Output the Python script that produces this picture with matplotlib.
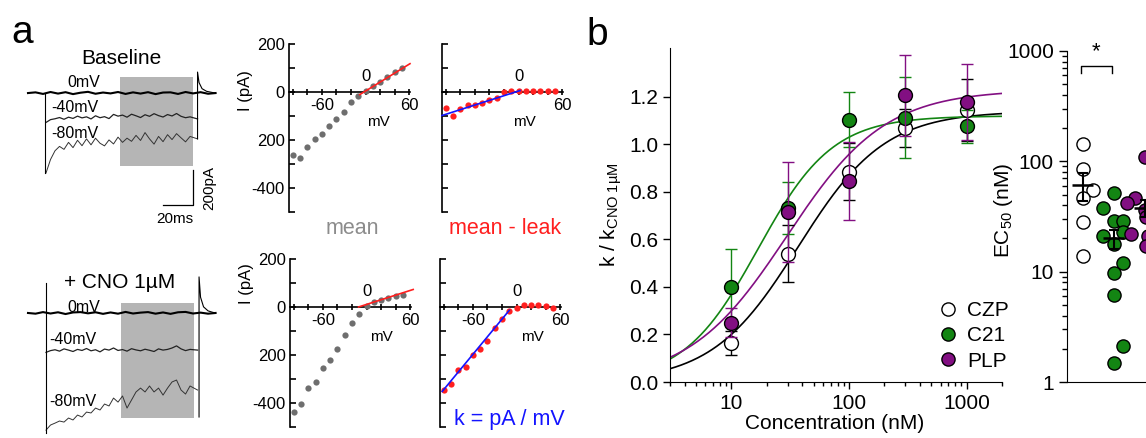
import numpy as np
import matplotlib
matplotlib.use('Agg')
import matplotlib.pyplot as plt
from matplotlib.patches import Rectangle
from matplotlib.lines import Line2D
from matplotlib.ticker import FixedLocator, NullFormatter

plt.rcParams['font.family'] = ['Liberation Sans', 'DejaVu Sans']
plt.rcParams['mathtext.fontset'] = 'custom'
plt.rcParams['mathtext.rm'] = 'Liberation Sans'
plt.rcParams['mathtext.it'] = 'Liberation Sans:italic'

# ---------------- data ----------------
# voltage-clamp traces (ms, pA)
t_zero = [2, 7, 12, 17, 22, 27, 32, 37, 42, 47, 52, 57, 62, 67, 72, 77, 82, 87,
          92, 97, 102, 107, 112, 117, 122, 127]
base_0mv = [0, 4, -5, 6, -3, 5, -6, 2, 7, -4, 3, -2, 6, -5, 4, -3, 5, -6, 3, 4,
            -5, 6, -2, 5, -4, 0]
cno_0mv = [0, -4, 5, -3, 4, -6, 3, 5, -2, 4, -5, 3, -4, 6, -3, 2, 5, -4, 3, -5,
           4, 6, -3, 2, -4, 0]

t_step = [14, 17, 20, 23, 26, 29, 32, 35, 38, 41, 44, 47, 50, 53, 56, 59, 62, 65,
          68, 71, 74, 77, 80, 83, 86, 89, 92, 95, 98, 101, 104, 107, 110, 115]
base_m40 = [-168, -152, -147, -140, -150, -138, -145, -132, -142, -136, -148, -130,
            -141, -135, -146, -122, -132, -126, -138, -121, -130, -140, -124, -133,
            -118, -129, -137, -123, -131, -117, -133, -141, -136, -148]
base_m80 = [-457, -380, -330, -305, -322, -282, -312, -270, -301, -262, -296, -258,
            -287, -302, -268, -291, -252, -282, -258, -276, -242, -271, -226, -262,
            -292, -248, -278, -238, -266, -232, -256, -279, -248, -262]
cno_m40 = [-225, -215, -210, -218, -205, -212, -220, -208, -214, -203, -216, -210,
           -222, -206, -212, -200, -214, -209, -218, -204, -211, -216, -207, -213,
           -220, -205, -212, -208, -200, -188, -205, -215, -208, -212]
cno_m80 = [-669, -640, -629, -617, -623, -600, -611, -583, -594, -566, -571, -543,
           -554, -520, -531, -486, -509, -474, -543, -497, -451, -429, -451, -417,
           -451, -429, -469, -429, -394, -383, -440, -463, -417, -440]

base_on_t, base_on_i = [13.3, 13.3], [0, -457]
cno_on_t, cno_on_i = [13.7, 13.7], [171, -686]
base_off_t = [115, 115, 116, 118, 121, 125, 127]
base_off_i = [-262, 120, 60, 25, 10, 3, 0]
cno_off_t = [116, 116, 117, 119, 122, 125, 127]
cno_off_i = [-594, 206, 90, 35, 12, 4, 0]

# I-V relations
iv_v = [-100, -90, -80, -70, -60, -50, -40, -30, -20, -10, 0, 10, 20, 30, 40, 50]
base_mean = [-261, -276, -228, -196, -175, -143, -112, -84, -42, -18, 5, 24, 42,
             63, 84, 102]
base_sub = [-66, -99, -71, -56, -56, -46, -32, -25, 0, 3, 3, 3, 3, 3, 5, 3]
cno_mean = [-436, -403, -336, -312, -255, -221, -176, -115, -67, -28, 5, 21, 31,
            38, 45, 52]
cno_sub = [-347, -322, -262, -248, -199, -176, -140, -87, -49, -17, -3, 7, 7, 7,
           3, -3]
base_leak_v, base_leak_i = [-8, 61], [-11, 118]
base_fit_v, base_fit_i = [-105, 2], [-98, 6]
cno_leak_v, cno_leak_i = [-11, 64], [0, 73]
cno_fit_v, cno_fit_i = [-102, -10], [-352, -14]

# dose-response
conc = [10, 30, 100, 300, 1000]
czp_k = [0.163, 0.539, 0.886, 1.069, 1.145]
czp_err = [0.05, 0.12, 0.12, 0.08, 0.13]
c21_k = [0.40, 0.731, 1.105, 1.113, 1.077]
c21_err = [0.16, 0.11, 0.115, 0.17, 0.07]
plp_k = [0.25, 0.716, 0.847, 1.207, 1.179]
plp_err = [0.06, 0.21, 0.165, 0.17, 0.16]
# Hill fit parameters: top, EC50 (nM), slope
czp_fit = (1.14, 37.0, 1.18)
c21_fit = (1.12, 16.8, 1.37)
plp_fit = (1.23, 29.7, 1.04)

# EC50 scatter
groups = ['CZP', 'C21', 'PLP']
czp_ec50 = [144, 85, 55, 47, 28, 14]
czp_dx = [0, 0, 0.33, 0, 0, 0]
c21_ec50 = [52, 38, 29, 29, 23, 21, 18, 12, 9.7, 6.1, 2.1, 1.5]
c21_dx = [0, -0.33, 0, 0.3, 0.3, -0.33, 0, 0.3, 0, 0, 0.3, 0]
plp_ec50 = [109, 47, 42, 36, 31, 22, 21, 17]
plp_dx = [0, -0.3, -0.55, 0, 0.05, -0.45, 0.1, 0.05]
ec50_mean = [61, 20, 38]
ec50_sem = [17, 4, 7]

GREEN = '#138513'
PURPLE = '#820f82'
RED = '#ff1f1f'
BLUE = '#1414ff'
GREY = '#6e6e6e'

W, H = 1146, 438
fig = plt.figure(figsize=(W / 100, H / 100), dpi=100)


def box(x0, y0, x1, y1):
    return fig.add_axes([x0 / W, 1 - y1 / H, (x1 - x0) / W, (y1 - y0) / H])


def ftext(x, y, s, **kw):
    fig.text(x / W, 1 - y / H, s, **kw)


# ---------------- traces ----------------
def trace_axes(ax, zero, m40, m80, on_t, on_i, off_t, off_i, rect, labels):
    ax.axis('off')
    ax.set_xlim(0, 133.3)
    ax.add_patch(Rectangle((rect[0], rect[2]), rect[1] - rect[0], rect[3] - rect[2],
                           color='#b5b5b5', lw=0, zorder=1))
    ax.plot(t_zero, zero, color='black', lw=1.5, zorder=3)
    ax.plot(t_step, m40, color='#222222', lw=0.9, zorder=3)
    ax.plot(t_step, m80, color='#333333', lw=0.7, zorder=3)
    ax.plot(on_t, on_i, color='black', lw=0.8, zorder=3)
    ax.plot(off_t, off_i, color='black', lw=0.8, zorder=3)
    for (x, y, s, fs) in labels:
        ax.text(x, y, s, fontsize=fs, ha='center', va='center', zorder=4)


ax_t1 = box(25, 60, 225, 230)
ax_t1.set_ylim(-783, 189)
trace_axes(ax_t1, base_0mv, base_m40, base_m80, base_on_t, base_on_i,
           base_off_t, base_off_i, (63, 112, -417, 91),
           [(38.9, 59, '0mV', 11.5), (33, -80, '-40mV', 11.5),
            (33, -234, '-80mV', 11.5)])
ax_t1.plot([92, 112, 112], [-640, -640, -440], color='black', lw=0.9)
ax_t1.text(123, -540, '200pA', rotation=90, fontsize=11, ha='center', va='center')
ax_t1.text(100, -722, '20ms', fontsize=11, ha='center', va='center')

ax_t2 = box(25, 265, 225, 438)
ax_t2.set_ylim(-714, 274)
trace_axes(ax_t2, cno_0mv, cno_m40, cno_m80, cno_on_t, cno_on_i,
           cno_off_t, cno_off_i, (64, 112.7, -600, 57),
           [(38.9, 34, '0mV', 11.5), (32, -154, '-40mV', 11.5),
            (32, -507, '-80mV', 11.5)])

ftext(121, 58, 'Baseline', fontsize=15, ha='center', va='center')
ftext(120, 282, '+ CNO 1µM', fontsize=15, ha='center', va='center')


# ---------------- I-V panels ----------------
def iv_axes(x0, y0, x1, y1, v, i, col, fit_v, fit_i, fit_col, show_y, mv_x,
            ylab_y, xlabels):
    ax = box(x0, y0, x1, y1)
    ax.set_xlim(-105, 61)
    ax.set_ylim(-500, 200)
    for s in ['top', 'right']:
        ax.spines[s].set_visible(False)
    ax.spines['bottom'].set_position(('data', 0))
    for s in ['left', 'bottom']:
        ax.spines[s].set_linewidth(1.2)
    ax.set_xticks([-100, -80, -60, -40, -20, 0, 20, 40, 60])
    ax.set_xticklabels(xlabels, fontsize=12)
    ax.set_yticks([200, 100, 0, -100, -200, -300, -400, -500])
    if show_y:
        ax.set_yticklabels(['200', '', '0', '', '200', '', '-400', ''], fontsize=12)
        ax.set_ylabel('I (pA)', fontsize=12)
        ax.yaxis.set_label_coords(-0.30, ylab_y)
    else:
        ax.set_yticklabels([])
    ax.tick_params(axis='x', direction='inout', length=5, width=1.2, pad=2)
    ax.tick_params(axis='y', direction='in', length=4, width=1.2, pad=3)
    ax.plot(v, i, 'o', color=col, ms=4.5, mew=0, zorder=3)
    ax.plot(fit_v, fit_i, color=fit_col, lw=1.2, zorder=4, clip_on=False)
    ax.text(0, 63, '0', fontsize=12, ha='center', va='center')
    ax.text(mv_x, -124, 'mV', fontsize=11, ha='center', va='center')
    return ax


both = ['', '', '-60', '', '', '', '', '', '60']
only60 = ['', '', '', '', '', '', '', '', '60']
iv_axes(289, 44, 410, 212, iv_v, base_mean, GREY, base_leak_v, base_leak_i, RED,
        True, 17, 0.72, both)
iv_axes(442, 44, 563, 212, iv_v, base_sub, RED, base_fit_v, base_fit_i, BLUE,
        False, 8, 0.72, only60)
iv_axes(290, 259, 411, 427, iv_v, cno_mean, GREY, cno_leak_v, cno_leak_i, RED,
        True, 20, 0.855, both)
iv_axes(440, 259, 561, 427, iv_v, cno_sub, RED, cno_fit_v, cno_fit_i, BLUE,
        False, 22, 0.855, both)

ftext(352, 228, 'mean', fontsize=15.5, color='#8c8c8c', ha='center', va='center')
ftext(505, 228, 'mean - leak', fontsize=15.5, color=RED, ha='center', va='center')
ftext(509, 420, 'k = pA / mV', fontsize=15.5, color=BLUE, ha='center', va='center')

# ---------------- dose-response ----------------
axb = box(670, 48, 1002, 382)
axb.set_xscale('log')
axb.set_xlim(3, 2000)
axb.set_ylim(0, 1.406)
for s in ['top', 'right']:
    axb.spines[s].set_visible(False)

xfit = np.logspace(np.log10(3), np.log10(2000), 300)
for (top, ec, n), col in [(czp_fit, 'black'), (c21_fit, GREEN), (plp_fit, PURPLE)]:
    axb.plot(xfit, top / (1 + (ec / xfit) ** n), color=col, lw=1.2, zorder=2)

axb.errorbar(conc, czp_k, yerr=czp_err, fmt='o', ms=10, mfc='white', mec='black',
             mew=1, ecolor='black', elinewidth=1, capsize=4.5, capthick=1, zorder=3)
axb.errorbar(conc, c21_k, yerr=c21_err, fmt='o', ms=10, mfc=GREEN, mec='black',
             mew=1, ecolor=GREEN, elinewidth=1, capsize=4.5, capthick=1, zorder=4)
axb.errorbar(conc, plp_k, yerr=plp_err, fmt='o', ms=10, mfc=PURPLE, mec='black',
             mew=1, ecolor=PURPLE, elinewidth=1, capsize=4.5, capthick=1, zorder=5)

axb.set_xticks([10, 100, 1000])
axb.set_xticklabels(['10', '100', '1000'])
axb.xaxis.set_minor_locator(FixedLocator(
    [m * d for d in [1, 10, 100, 1000] for m in range(2, 10) if 3 <= m * d <= 2000]))
axb.xaxis.set_minor_formatter(NullFormatter())
axb.set_yticks([0, 0.2, 0.4, 0.6, 0.8, 1.0, 1.2])
axb.set_yticklabels(['0.0', '0.2', '0.4', '0.6', '0.8', '1.0', '1.2'])
axb.tick_params(which='major', labelsize=15, length=5, width=1)
axb.tick_params(which='minor', length=3, width=1)
axb.set_xlabel('Concentration (nM)', fontsize=15)
axb.xaxis.set_label_coords(0.497, -0.095)
axb.set_ylabel('k / k$_{\\mathregular{CNO\\ 1µM}}$', fontsize=15)
axb.yaxis.set_label_coords(-0.14, 0.5)

handles = [Line2D([], [], ls='none', marker='o', ms=9.5, mfc=c, mec='black', mew=1)
           for c in ['white', GREEN, PURPLE]]
axb.legend(handles, groups, loc='upper left', bbox_to_anchor=(0.806, 0.242),
           frameon=False, fontsize=15, handlelength=1.0, handletextpad=0.4,
           labelspacing=0.3, borderpad=0, borderaxespad=0)

# ---------------- EC50 ----------------
axe = box(1067, 51, 1191, 382)
axe.set_yscale('log')
axe.set_ylim(1, 1000)
axe.set_xlim(0.5, 4.5)
for s in ['top', 'right']:
    axe.spines[s].set_visible(False)
axe.set_xticks([])
axe.set_yticks([1, 10, 100, 1000])
axe.set_yticklabels(['1', '10', '100', '1000'])
axe.tick_params(which='major', labelsize=15, length=6, width=1)
axe.tick_params(which='minor', length=3.5, width=1)

for k, (vals, dx, fc) in enumerate([(czp_ec50, czp_dx, 'white'),
                                    (c21_ec50, c21_dx, GREEN),
                                    (plp_ec50, plp_dx, PURPLE)]):
    xs = [k + 1 + d for d in dx]
    axe.scatter(xs, vals, s=90, facecolor=fc, edgecolor='black', lw=1, zorder=3,
                clip_on=False)
pos = [1, 2, 3]
axe.errorbar(pos, ec50_mean, yerr=ec50_sem, fmt='none', ecolor='black',
             elinewidth=1.5, capsize=3.6, capthick=1.5, zorder=5)
axe.hlines(ec50_mean, [p - 0.35 for p in pos], [p + 0.35 for p in pos],
           color='black', lw=1.8, zorder=5)
axe.plot([0.95, 0.95, 1.95, 1.95], [631, 731, 731, 631], color='black', lw=1)
axe.text(1.45, 800, '*', fontsize=16, ha='center', va='bottom')
axe.set_ylabel('EC$_{\\mathregular{50}}$ (nM)', fontsize=15)
axe.yaxis.set_label_coords(-0.42, 0.52)

ftext(22, 33, 'a', fontsize=28, ha='center', va='center')
ftext(597, 35, 'b', fontsize=28, ha='center', va='center')

fig.savefig('out.png', dpi=100)
